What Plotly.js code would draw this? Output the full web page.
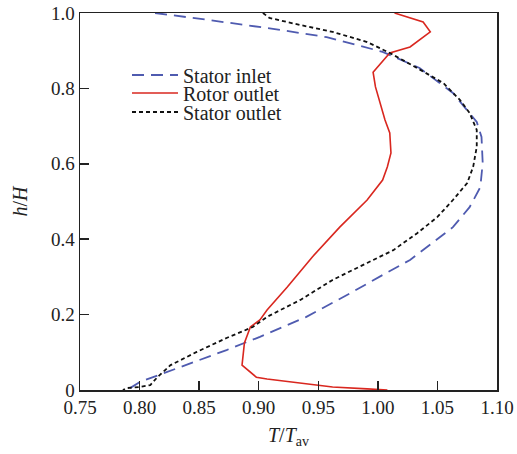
<!DOCTYPE html>
<html>
<head>
<meta charset="utf-8">
<script src="https://cdn.plot.ly/plotly-3.0.1.min.js"></script>
<style>html,body{margin:0;padding:0;background:#fff;}#chart{width:517px;height:454px;}</style>
</head>
<body>
<div id="chart"></div>
<script>
// Stator inlet (blue dashed)
var statorInletT = [0.813,0.834,0.859,0.912,0.957,1.004,1.035,1.063,1.083,1.087,1.088,1.086,1.077,1.063,1.046,1.027,1.004,0.977,0.940,0.901,0.873,0.845,0.817,0.800,0.792];
var statorInletH = [1.000,0.992,0.981,0.958,0.936,0.897,0.854,0.788,0.711,0.671,0.602,0.538,0.485,0.432,0.390,0.345,0.305,0.257,0.194,0.141,0.106,0.074,0.040,0.021,0.005];

// Rotor outlet (red solid)
var rotorOutletT = [1.014,1.038,1.044,1.027,1.010,0.996,0.998,1.002,1.006,1.010,1.011,1.008,1.004,0.991,0.968,0.945,0.924,0.907,0.901,0.893,0.888,0.886,0.898,0.907,0.935,0.962,0.991,1.008];
var rotorOutletH = [1.000,0.976,0.950,0.910,0.894,0.843,0.804,0.761,0.716,0.682,0.629,0.592,0.557,0.504,0.432,0.353,0.273,0.212,0.186,0.167,0.125,0.066,0.034,0.029,0.019,0.008,0.003,0.000];

// Stator outlet (black dotted)
var statorOutletT = [0.9035,0.909,0.935,0.962,0.991,1.010,1.033,1.055,1.069,1.077,1.083,1.083,1.080,1.075,1.063,1.050,1.033,1.013,0.991,0.962,0.935,0.907,0.895,0.873,0.848,0.826,0.815,0.809,0.800,0.789,0.786];
var statorOutletH = [1.000,0.987,0.968,0.950,0.923,0.894,0.854,0.814,0.769,0.735,0.690,0.645,0.592,0.549,0.504,0.459,0.416,0.371,0.337,0.292,0.239,0.194,0.167,0.138,0.101,0.066,0.034,0.013,0.008,0.005,0.000];

var xTicks = [0.75,0.80,0.85,0.90,0.95,1.00,1.05,1.10];
var xTickText = ["0.75","0.80","0.85","0.90","0.95","1.00","1.05","1.10"];
var yTicks = [0,0.2,0.4,0.6,0.8,1.0];
var yTickText = ["0","0.2","0.4","0.6","0.8","1.0"];

var fam = "Liberation Serif, Times New Roman, serif";
var tickFont = {family: fam, size: 19, color: "#222"};
var titleFont = {family: fam, size: 20, color: "#222"};
var legFont = {family: fam, size: 20, color: "#222"};

var traces = [
  {x: statorInletT, y: statorInletH, mode: "lines", name: "Stator inlet", legend: "legend",
   line: {color: "#4f5bb0", width: 1.8, dash: "12px,7px"}},
  {x: rotorOutletT, y: rotorOutletH, mode: "lines", name: "Rotor outlet", legend: "legend2",
   line: {color: "#d9271f", width: 1.6}},
  {x: statorOutletT, y: statorOutletH, mode: "lines", name: "Stator outlet", legend: "legend3",
   line: {color: "#111", width: 1.8, dash: "4px,3px"}}
];

function leg(yv) {
  return {x: 0.1127, y: yv, xanchor: "left", yanchor: "middle", bgcolor: "rgba(0,0,0,0)",
          font: legFont, itemwidth: 46, borderwidth: 0};
}

var layout = {
  width: 517, height: 454,
  margin: {l: 80, r: 20, t: 13, b: 64},
  paper_bgcolor: "#fff", plot_bgcolor: "#fff",
  font: tickFont,
  showlegend: true,
  legend: leg(0.8355),
  legend2: leg(0.7878),
  legend3: leg(0.7374),
  xaxis: {range: [0.75, 1.10], tickvals: xTicks, ticktext: xTickText,
          ticks: "inside", ticklen: 9, tickwidth: 1.5, tickcolor: "#222",
          showline: true, linecolor: "#222", linewidth: 1.5, mirror: true,
          showgrid: false, zeroline: false, tickfont: tickFont,
          title: {text: "<i>T</i>/<i>T</i><sub>av</sub>", font: titleFont, standoff: 10}},
  yaxis: {range: [0, 1.0], tickvals: yTicks, ticktext: yTickText,
          ticks: "inside", ticklen: 9, tickwidth: 1.5, tickcolor: "#222",
          showline: true, linecolor: "#222", linewidth: 1.5, mirror: true,
          showgrid: false, zeroline: false, tickfont: tickFont,
          title: {text: "<i>h</i>/<i>H</i>", font: titleFont, standoff: 18}}
};

Plotly.newPlot("chart", traces, layout, {displayModeBar: false, staticPlot: true});
</script>
</body>
</html>
